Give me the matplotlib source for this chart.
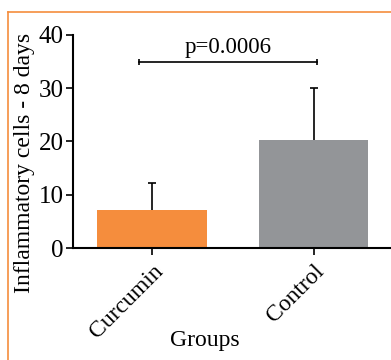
import numpy as np
import matplotlib.pyplot as plt
from matplotlib.lines import Line2D

plt.rcParams['font.family'] = ['Liberation Serif', 'DejaVu Serif']

# Data
groups = ['Curcumin', 'Control']
means = [7.1, 20.3]
sd_upper = [5.1, 9.7]
bar_colors = ['#F58D3D', '#939598']
p_label = 'p=0.0006'

fig = plt.figure(figsize=(3.91, 3.6), dpi=100)
ax = fig.add_axes([0.187, 0.311, 0.813, 0.592])

x = np.arange(len(groups))
tops = np.array(means) + np.array(sd_upper)
ax.bar(x, means, width=0.68, color=bar_colors, zorder=2)
# upper error bars only
ax.vlines(x, means, tops, color='black', lw=1.2, zorder=3)
ax.plot(x, tops, ls='none', marker='_', markersize=6, markeredgewidth=1.2,
        color='black', zorder=3)

# significance bracket
ax.plot([-0.08, 1.02], [35, 35], color='black', lw=1.2,
        marker='|', markersize=5, markeredgewidth=1.2, clip_on=False)
ax.text(0.47, 35.6, p_label, ha='center', va='bottom', fontsize=16.5)

ax.set_xlim(-0.49, 1.48)
ax.set_ylim(0, 40)
ax.set_yticks([0, 10, 20, 30, 40])
ax.set_xticks(x)
ax.set_xticklabels(groups, rotation=45, ha='right', rotation_mode='anchor', fontsize=17)
ax.tick_params(axis='y', labelsize=18, width=1.2, length=5, pad=2)
ax.tick_params(axis='x', width=1.2, length=5, pad=4)
for s in ['top', 'right']:
    ax.spines[s].set_visible(False)
for s in ['left', 'bottom']:
    ax.spines[s].set_linewidth(1.5)

ax.set_ylabel('Inflammatory cells - 8 days', fontsize=17, va='center')
ax.yaxis.set_label_coords(-0.152, 0.40)
ax.set_xlabel('Groups', fontsize=17, va='center')
ax.xaxis.set_label_coords(0.415, -0.435)

# orange frame
fig.add_artist(Line2D([0.021, 1.0], [0.967, 0.967], color='#F58D3D', lw=1.2))
fig.add_artist(Line2D([0.021, 0.021], [0.0, 0.967], color='#F58D3D', lw=1.2))

fig.savefig('out.png', dpi=100)
